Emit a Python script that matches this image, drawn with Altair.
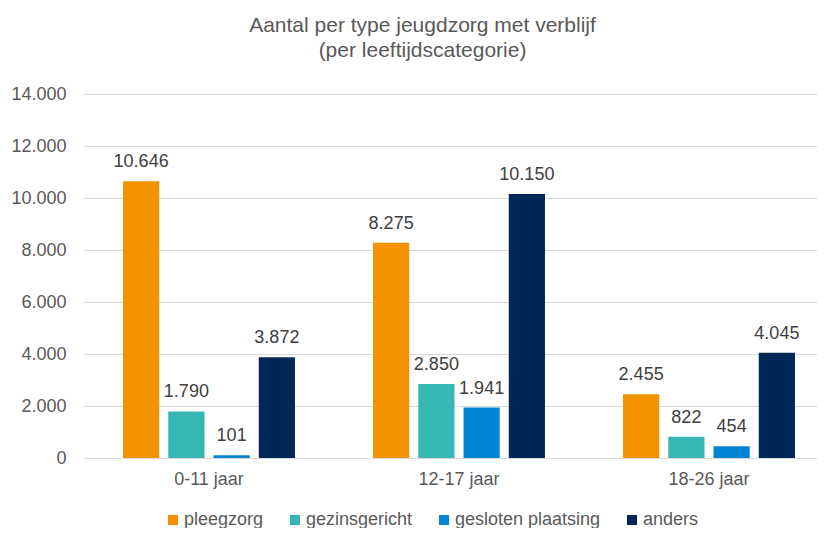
import altair as alt
import pandas as pd

categories = ["0-11 jaar", "12-17 jaar", "18-26 jaar"]
series = ["pleegzorg", "gezinsgericht", "gesloten plaatsing", "anders"]
values = {
    "pleegzorg": [10646, 8275, 2455],
    "gezinsgericht": [1790, 2850, 822],
    "gesloten plaatsing": [101, 1941, 454],
    "anders": [3872, 10150, 4045],
}
colors = ["#F39200", "#36B7B4", "#0084D4", "#002856"]

rows = []
for s in series:
    for c, v in zip(categories, values[s]):
        rows.append({"leeftijd": c, "type": s, "aantal": v})
df = pd.DataFrame(rows)

FONT = "Liberation Sans"
GREY = "#595959"

base = alt.Chart(df).encode(
    x=alt.X("leeftijd:N", sort=categories, title=None,
            scale=alt.Scale(range=[0, 750], paddingInner=0.276, paddingOuter=0.138),
            axis=alt.Axis(labelAngle=0, ticks=False, domainColor="#D9D9D9",
                          labelPadding=12, labelFontSize=18, labelColor=GREY,
                          labelFont=FONT, grid=False)),
    xOffset=alt.XOffset("type:N", sort=series,
                        scale=alt.Scale(paddingInner=0.2, paddingOuter=0.1)),
)

bars = base.mark_bar().encode(
    y=alt.Y("aantal:Q", title=None,
            scale=alt.Scale(domain=[0, 14000]),
            axis=alt.Axis(values=list(range(0, 14001, 2000)), ticks=False,
                          domain=False, gridColor="#D9D9D9", labelPadding=18,
                          labelFontSize=18, labelColor=GREY, labelFont=FONT,
                          labelExpr="replace(format(datum.value, ',d'), ',', '.')")),
    color=alt.Color("type:N", sort=series,
                    scale=alt.Scale(domain=series, range=colors),
                    legend=alt.Legend(title=None, orient="none", direction="horizontal",
                                      legendX=80, legendY=417, padding=0,
                                      symbolType="square", symbolSize=100,
                                      symbolStrokeWidth=0, symbolOpacity=1,
                                      labelFontSize=18, labelColor=GREY, labelFont=FONT,
                                      labelOffset=2, columnPadding=22)),
)

labels = base.mark_text(baseline="alphabetic", dy=-14, fontSize=18, font=FONT,
                        color="#404040").transform_calculate(
    lbl="replace(format(datum.aantal, ',d'), ',', '.')"
).encode(
    y=alt.Y("aantal:Q"),
    text=alt.Text("lbl:N"),
)

chart = alt.layer(bars, labels).properties(
    width=733,
    height=364,
    title=alt.TitleParams(
        ["Aantal per type jeugdzorg met verblijf", "(per leeftijdscategorie)"],
        font=FONT, fontSize=21, fontWeight="normal", color=GREY,
        anchor="middle", offset=24, lineHeight=25, dx=-28,
    ),
    autosize=alt.AutoSizeParams(type="none"),
    padding={"left": 76, "top": 86, "right": 0, "bottom": 70},
).configure_view(stroke=None)

chart.save("out.html", embed_options={"renderer": "svg", "actions": False})
